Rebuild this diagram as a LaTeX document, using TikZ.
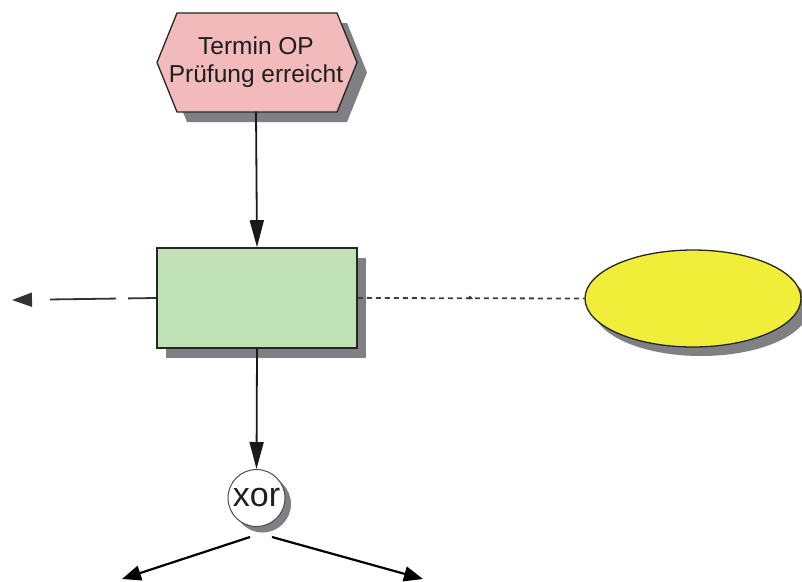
\documentclass[tikz,border=0pt]{standalone}
\usepackage{fontspec}
\setmainfont{Liberation Sans}
\usetikzlibrary{arrows.meta,shapes.geometric,shadows}
\definecolor{hexpink}{RGB}{242,186,186}
\definecolor{fngreen}{RGB}{192,224,182}
\definecolor{orgyellow}{RGB}{241,238,58}
\definecolor{shgray}{RGB}{128,128,132}
\definecolor{txtcol}{RGB}{30,30,30}
\tikzset{
  shad/.style 2 args={drop shadow={shadow xshift=#1pt, shadow yshift=-#2pt, fill=shgray, opacity=1}},
  evbox/.style={draw=black!85, line width=1.3pt, fill=hexpink},
  fnbox/.style={draw=black!85, line width=1.6pt, fill=fngreen, minimum width=200pt, minimum height=100pt, inner sep=0pt, shad={9}{10}},
  orgshape/.style={ellipse, draw=black!85, line width=1.3pt, fill=orgyellow, minimum width=216pt, minimum height=97pt, inner sep=0pt, shad={8}{9}},
  xorshape/.style={circle, draw=black!70, line width=1pt, fill=white, minimum size=57pt, inner sep=0pt, shad={6}{6}},
  conn/.style={draw=black!90, line width=1.8pt, -{Triangle[length=27pt,width=14pt]}},
  branch/.style={draw=black, line width=2.2pt, -{Triangle[length=19pt,width=15pt]}},
  longdash/.style={draw=black!80, line width=1.8pt, dash pattern=on 28pt off 12pt on 66pt off 40pt, -{Triangle[length=20pt,width=14pt]}},
  dotline/.style={draw=black!75, line width=1.8pt, dash pattern=on 5pt off 4pt},
}
\begin{document}
\begin{tikzpicture}[x=1pt,y=-1pt]
\useasboundingbox (0,0) rectangle (802,581);
% event hexagon
\draw[evbox, shad={10}{10}] (177,13) -- (337,13) -- (357,62.5) -- (337,112) -- (177,112) -- (157,62.5) -- cycle;
\node[text=txtcol, align=center, font=\fontsize{24.5}{28}\selectfont, minimum width=180pt, minimum height=99pt, inner sep=0pt] (ev) at (256,62) {Termin OP\\Prüfung erreicht};
% function
\node[fnbox] (fn) at (257,298) {};
% organisation ellipse
\node[orgshape] (org) at (693,298.5) {};
% xor
\node[xorshape, text=txtcol, font=\fontsize{34}{36}\selectfont] (xor) at (256.5,498) {xor};
% free ends
\coordinate (ltip) at (12,300);
\coordinate (bl) at (122,579);
\coordinate (br) at (423,579);
% connectors
\draw[conn] (ev.south) -- (fn.north);
\draw[conn] (fn.south) -- (xor.north);
\draw[longdash] (fn.west) -- (ltip);
\draw[dotline] (fn.east) -- (org.west);
\fill[black!80] (467,299) -- (470,295.5) -- (473,299) -- cycle;
\draw[branch] ([xshift=-6.5pt,yshift=-10pt]xor.south) -- (bl);
\draw[branch] ([xshift=15.5pt,yshift=-10pt]xor.south) -- (br);
\end{tikzpicture}
\end{document}
